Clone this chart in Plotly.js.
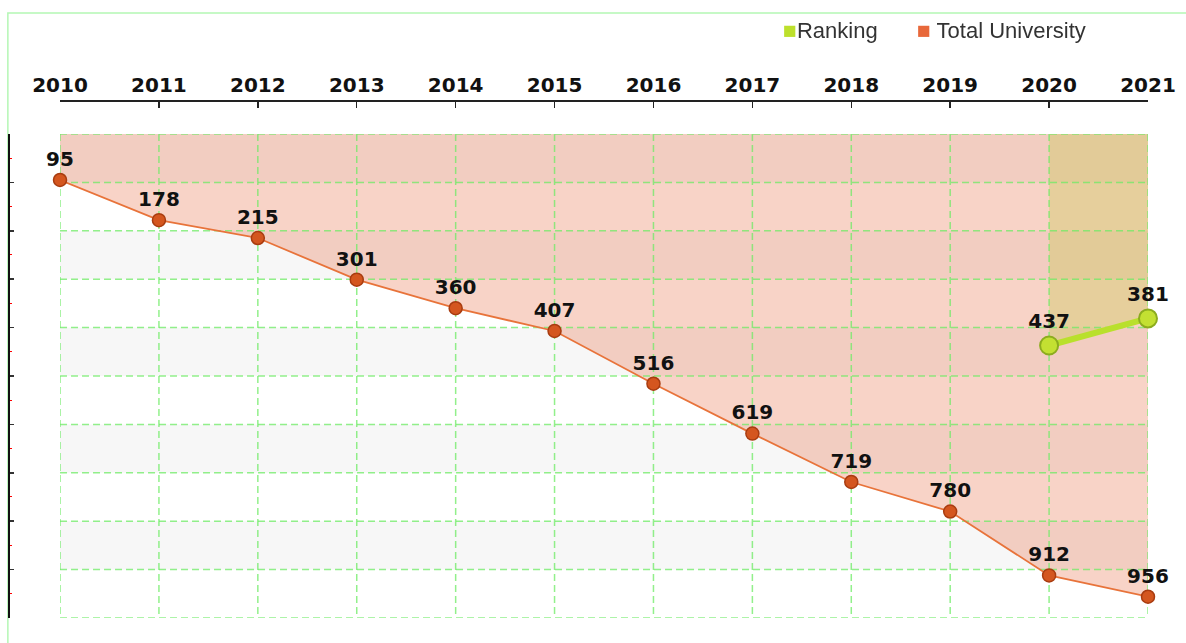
<!DOCTYPE html>
<html>
<head>
<meta charset="utf-8">
<script src="https://cdn.plot.ly/plotly-3.0.1.min.js"></script>
<style>html,body{margin:0;padding:0;background:#fff;}#chart{width:1186px;height:643px;}</style>
</head>
<body>
<div id="chart"></div>
<script>
// ---- data ----
const years = [2010, 2011, 2012, 2013, 2014, 2015, 2016, 2017, 2018, 2019, 2020, 2021];
const totalUniversity = [95, 178, 215, 301, 360, 407, 516, 619, 719, 780, 912, 956];
const rankingYears = [2020, 2021];
const ranking = [437, 381];
const yMin = 0, yMax = 1000, yStep = 100;
const yTicks = [0, 100, 200, 300, 400, 500, 600, 700, 800, 900, 1000];
const bandStarts = [0, 200, 400, 600, 800];
const legendNames = ['Ranking', 'Total University'];

const labelFont = {family: 'DejaVu Sans', size: 20, color: '#111', weight: 'bold'};
const gridLine = {color: 'rgba(110,235,100,0.75)', width: 1.5, dash: '7px,4px'};

// grid path (built from the tick arrays) so it can sit between fills and markers
const gx = [], gy = [];
years.forEach(yr => { gx.push(yr, yr, null); gy.push(yMin, yMax, null); });
yTicks.forEach(v => { gx.push(years[0], years[years.length - 1], null); gy.push(v, v, null); });

const traces = [
  // fills
  {x: years, y: totalUniversity, type: 'scatter', mode: 'none', showlegend: false,
   fill: 'tozeroy', fillcolor: 'rgba(232,110,70,0.3)', hoverinfo: 'skip'},
  {x: rankingYears, y: ranking, type: 'scatter', mode: 'none', showlegend: false,
   fill: 'tozeroy', fillcolor: 'rgba(195,200,70,0.33)', hoverinfo: 'skip'},
  // grid
  {x: gx, y: gy, type: 'scatter', mode: 'lines', showlegend: false, line: gridLine,
   cliponaxis: false, hoverinfo: 'skip'},
  // series
  {
    x: years, y: totalUniversity, type: 'scatter', mode: 'lines+markers+text',
    name: 'Total University', showlegend: false,
    line: {color: '#e8733a', width: 1.8},
    marker: {size: 13, color: '#d4561f', line: {color: '#a83c10', width: 1.5}},
    text: totalUniversity.map(String), textposition: 'top center',
    textfont: labelFont, cliponaxis: false, hoverinfo: 'skip'
  },
  {
    x: rankingYears, y: ranking, type: 'scatter', mode: 'lines+markers+text',
    name: 'Ranking', showlegend: false,
    line: {color: '#b9e02c', width: 6},
    marker: {size: 18, color: '#c3e032', line: {color: '#8cac1e', width: 2}},
    text: ranking.map(String), textposition: 'top center',
    textfont: labelFont, cliponaxis: false, hoverinfo: 'skip'
  },
  // carrier for the left axis
  {x: years, y: totalUniversity, yaxis: 'y2', type: 'scatter', mode: 'markers',
   showlegend: false, opacity: 0, hoverinfo: 'skip'}
];

const shapes = bandStarts.map(b => ({
  type: 'rect', xref: 'x domain', yref: 'y', x0: 0, x1: 1, y0: b, y1: b + yStep,
  fillcolor: '#f7f7f7', line: {width: 0}, layer: 'below'
}));
// outer light green frame
shapes.push({
  type: 'rect', xref: 'paper', yref: 'paper', x0: -0.001, x1: 1.2, y0: -0.2, y1: 1.168,
  line: {color: '#b4f7b4', width: 1.5}, fillcolor: 'rgba(0,0,0,0)', layer: 'below'
});

const legendFont = {family: 'Liberation Sans', size: 22, color: '#333'};
const annotations = [
  {xref: 'paper', yref: 'paper', x: 0.6775, y: 1.1345, xanchor: 'left', yanchor: 'middle',
   showarrow: false, font: legendFont,
   text: '<span style="color:#bde02c;font-size:23px">■</span>' + legendNames[0]},
  {xref: 'paper', yref: 'paper', x: 0.795, y: 1.1345, xanchor: 'left', yanchor: 'middle',
   showarrow: false, font: legendFont,
   text: '<span style="color:#e8683a;font-size:23px">■</span> ' + legendNames[1]}
];

const layout = {
  width: 1186, height: 643,
  margin: {l: 9, r: 38, t: 100, b: 25},
  paper_bgcolor: '#fff', plot_bgcolor: 'rgba(0,0,0,0)',
  showlegend: false,
  xaxis: {
    domain: [0.0448, 1], range: [years[0], years[years.length - 1]],
    side: 'top', anchor: 'free', position: 1,
    tickmode: 'array', tickvals: years, ticktext: years.map(String),
    tickfont: {family: 'DejaVu Sans', size: 20, color: '#111', weight: 'bold'},
    ticks: 'inside', ticklen: 6, tickwidth: 1.5, tickcolor: '#222',
    showline: true, linecolor: '#222', linewidth: 1.5,
    showgrid: false, zeroline: false, fixedrange: true
  },
  yaxis: {
    domain: [0, 0.9344], range: [yMax, yMin],
    dtick: yStep, tick0: 0, showticklabels: false, ticks: '',
    showline: false, showgrid: false, zeroline: false, fixedrange: true
  },
  yaxis2: {
    overlaying: 'y', anchor: 'free', position: 0, side: 'left',
    range: [yMax, yMin], dtick: yStep, tick0: 0,
    showticklabels: false, showgrid: false, zeroline: false,
    showline: true, linecolor: '#111', linewidth: 2,
    ticks: 'inside', ticklen: 4, tickwidth: 1.5, tickcolor: '#333',
    minor: {dtick: 50, tick0: 0, ticks: 'inside', ticklen: 2, tickcolor: 'red', tickwidth: 1, showgrid: false},
    fixedrange: true
  },
  shapes: shapes,
  annotations: annotations,
  hovermode: false
};

Plotly.newPlot('chart', traces, layout, {displayModeBar: false, staticPlot: true});
</script>
</body>
</html>
